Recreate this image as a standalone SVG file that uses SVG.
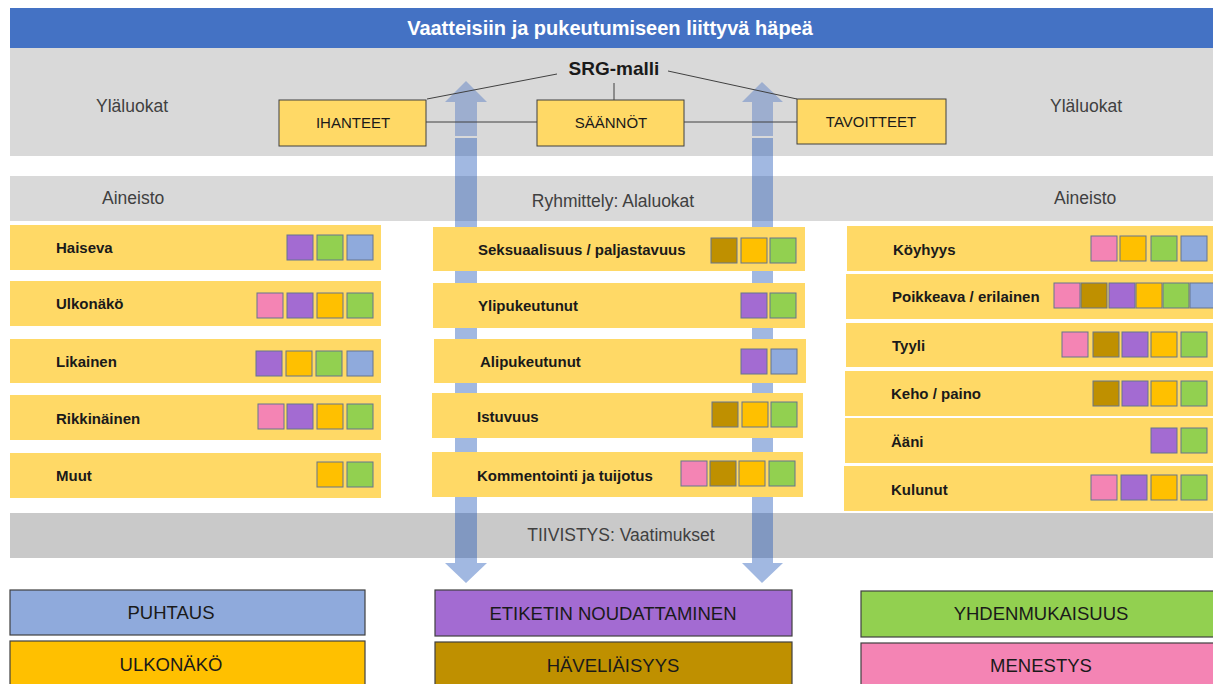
<svg xmlns="http://www.w3.org/2000/svg" width="1213" height="684" viewBox="0 0 1213 684">
<style>
text{font-family:"Liberation Sans",Arial,sans-serif}
.band{fill:#d9d9d9}
.band2{fill:#c9c9c9}
.sec{font-size:17.5px;fill:#404040}
.row{fill:#ffd966}
.lbl{font-size:15px;font-weight:bold;fill:#1a1a1a}
.sq{stroke:#65758f;stroke-width:1}
.pk{fill:#f484b4}.pu{fill:#a36bd2}.go{fill:#ffc000}.gr{fill:#92d050}.bl{fill:#8faadc}.br{fill:#bf9000}
.node{fill:#ffd966;stroke:#404040;stroke-width:1}
.ntxt{font-size:15px;fill:#1a1a1a;text-anchor:middle}
.conn{stroke:#404040;stroke-width:1;fill:none}
.arrow{fill:#1f56b8;fill-opacity:0.42}
.arrowU{fill:#3d6ac0;fill-opacity:0.38}
.req{stroke:#404040;stroke-width:1.2}
.rtxt{font-size:18.5px;fill:#1a1a1a;text-anchor:middle}
</style>
<defs>
<rect id="s" width="26" height="25"/>
</defs>

<!-- background bands -->
<rect x="10" y="8" width="1203" height="40" fill="#4472c4"/>
<text x="610" y="35" font-size="20" font-weight="bold" fill="#ffffff" text-anchor="middle">Vaatteisiin ja pukeutumiseen liittyvä häpeä</text>
<rect class="band" x="10" y="48" width="1203" height="108"/>
<rect class="band" x="10" y="176" width="1203" height="45"/>
<rect class="band2" x="10" y="513" width="1203" height="45"/>
<text class="sec" x="96" y="112" fill="#262626">Yläluokat</text>
<text class="sec" x="1050" y="112">Yläluokat</text>
<text class="sec" x="102" y="204">Aineisto</text>
<text class="sec" x="613" y="207" text-anchor="middle" font-size="18">Ryhmittely: Alaluokat</text>
<text class="sec" x="1054" y="204">Aineisto</text>
<text class="sec" x="621" y="541" text-anchor="middle">TIIVISTYS: Vaatimukset</text>

<!-- arrows -->
<g id="arrows">
<polygon class="arrowU" points="466,81 487,102 477,102 477,136 455,136 455,102 445,102"/>
<polygon class="arrow" points="455,138 477,138 477,563 487,563 466,583 445,563 455,563"/>
<polygon class="arrowU" points="762,82 783,102 773,102 773,136 752,136 752,102 742,102"/>
<polygon class="arrow" points="752,138 773,138 773,563 783,563 762,583 742,563 752,563"/>
</g>

<!-- connectors -->
<g id="connectors">
<line class="conn" x1="426" y1="122" x2="537" y2="122"/>
<line class="conn" x1="684" y1="122" x2="797" y2="122" stroke-width="1.5"/>
<line class="conn" x1="427" y1="99" x2="557" y2="74"/>
<line class="conn" x1="668" y1="71" x2="797" y2="99"/>
<line class="conn" x1="614" y1="83" x2="614" y2="100"/>
</g>

<g id="srg"><text x="614" y="75" font-size="19" font-weight="bold" fill="#1a1a1a" text-anchor="middle">SRG-malli</text></g>
<g id="ihanteet"><rect class="node" x="279" y="100" width="147" height="46"/><text class="ntxt" x="353" y="128">IHANTEET</text></g>
<g id="saannot"><rect class="node" x="537" y="100" width="147" height="46"/><text class="ntxt" x="611" y="128">SÄÄNNÖT</text></g>
<g id="tavoitteet"><rect class="node" x="797" y="99" width="149" height="45"/><text class="ntxt" x="871" y="127">TAVOITTEET</text></g>

<!-- left column -->
<g id="haiseva"><rect class="row" x="10" y="225" width="371" height="45"/><text class="lbl" x="56" y="253">Haiseva</text>
<use href="#s" class="sq pu" x="287" y="235"/><use href="#s" class="sq gr" x="317" y="235"/><use href="#s" class="sq bl" x="347" y="235"/></g>
<g id="ulkonako"><rect class="row" x="10" y="281" width="371" height="45"/><text class="lbl" x="56" y="309">Ulkonäkö</text>
<use href="#s" class="sq pk" x="257" y="293"/><use href="#s" class="sq pu" x="287" y="293"/><use href="#s" class="sq go" x="317" y="293"/><use href="#s" class="sq gr" x="347" y="293"/></g>
<g id="likainen"><rect class="row" x="10" y="339" width="371" height="44"/><text class="lbl" x="56" y="367">Likainen</text>
<use href="#s" class="sq pu" x="256" y="351"/><use href="#s" class="sq go" x="286" y="351"/><use href="#s" class="sq gr" x="316" y="351"/><use href="#s" class="sq bl" x="347" y="351"/></g>
<g id="rikkinainen"><rect class="row" x="10" y="395" width="371" height="45"/><text class="lbl" x="56" y="424">Rikkinäinen</text>
<use href="#s" class="sq pk" x="258" y="404"/><use href="#s" class="sq pu" x="287" y="404"/><use href="#s" class="sq go" x="317" y="404"/><use href="#s" class="sq gr" x="347" y="404"/></g>
<g id="muut"><rect class="row" x="10" y="453" width="371" height="45"/><text class="lbl" x="56" y="481">Muut</text>
<use href="#s" class="sq go" x="317" y="462"/><use href="#s" class="sq gr" x="347" y="462"/></g>

<!-- middle column -->
<g id="seksuaalisuus"><rect class="row" x="433" y="227" width="372" height="44"/><text class="lbl" x="478" y="255">Seksuaalisuus / paljastavuus</text>
<use href="#s" class="sq br" x="711" y="238"/><use href="#s" class="sq go" x="741" y="238"/><use href="#s" class="sq gr" x="770" y="238"/></g>
<g id="ylipukeutunut"><rect class="row" x="433" y="283" width="372" height="45"/><text class="lbl" x="478" y="311">Ylipukeutunut</text>
<use href="#s" class="sq pu" x="741" y="293"/><use href="#s" class="sq gr" x="770" y="293"/></g>
<g id="alipukeutunut"><rect class="row" x="434" y="339" width="372" height="44"/><text class="lbl" x="480" y="367">Alipukeutunut</text>
<use href="#s" class="sq pu" x="741" y="349"/><use href="#s" class="sq bl" x="771" y="349"/></g>
<g id="istuvuus"><rect class="row" x="432" y="393" width="371" height="45"/><text class="lbl" x="477" y="422">Istuvuus</text>
<use href="#s" class="sq br" x="712" y="402"/><use href="#s" class="sq go" x="742" y="402"/><use href="#s" class="sq gr" x="771" y="402"/></g>
<g id="kommentointi"><rect class="row" x="432" y="452" width="371" height="45"/><text class="lbl" x="477" y="481">Kommentointi ja tuijotus</text>
<use href="#s" class="sq pk" x="681" y="461"/><use href="#s" class="sq br" x="710" y="461"/><use href="#s" class="sq go" x="739" y="461"/><use href="#s" class="sq gr" x="769" y="461"/></g>

<!-- right column -->
<g id="koyhyys"><rect class="row" x="847" y="226" width="366" height="45"/><text class="lbl" x="893" y="255">Köyhyys</text>
<use href="#s" class="sq pk" x="1091" y="236"/><use href="#s" class="sq go" x="1120" y="236"/><use href="#s" class="sq gr" x="1151" y="236"/><use href="#s" class="sq bl" x="1181" y="236"/></g>
<g id="poikkeava"><rect class="row" x="846" y="274" width="367" height="45"/><text class="lbl" x="892" y="302">Poikkeava / erilainen</text>
<use href="#s" class="sq pk" x="1054" y="283"/><use href="#s" class="sq br" x="1081" y="283"/><use href="#s" class="sq pu" x="1109" y="283"/><use href="#s" class="sq go" x="1136" y="283"/><use href="#s" class="sq gr" x="1163" y="283"/><use href="#s" class="sq bl" x="1190" y="283"/></g>
<g id="tyyli"><rect class="row" x="846" y="323" width="367" height="44"/><text class="lbl" x="892" y="351">Tyyli</text>
<use href="#s" class="sq pk" x="1062" y="332"/><use href="#s" class="sq br" x="1093" y="332"/><use href="#s" class="sq pu" x="1122" y="332"/><use href="#s" class="sq go" x="1151" y="332"/><use href="#s" class="sq gr" x="1181" y="332"/></g>
<g id="keho"><rect class="row" x="845" y="371" width="368" height="45"/><text class="lbl" x="891" y="399">Keho / paino</text>
<use href="#s" class="sq br" x="1093" y="381"/><use href="#s" class="sq pu" x="1122" y="381"/><use href="#s" class="sq go" x="1151" y="381"/><use href="#s" class="sq gr" x="1181" y="381"/></g>
<g id="aani"><rect class="row" x="845" y="418" width="368" height="45"/><text class="lbl" x="891" y="447">Ääni</text>
<use href="#s" class="sq pu" x="1151" y="428"/><use href="#s" class="sq gr" x="1181" y="428"/></g>
<g id="kulunut"><rect class="row" x="844" y="466" width="369" height="45"/><text class="lbl" x="891" y="495">Kulunut</text>
<use href="#s" class="sq pk" x="1091" y="475"/><use href="#s" class="sq pu" x="1121" y="475"/><use href="#s" class="sq go" x="1151" y="475"/><use href="#s" class="sq gr" x="1181" y="475"/></g>

<!-- requirements -->
<g id="puhtaus"><rect class="req bl" x="10" y="590" width="355" height="45"/><text class="rtxt" x="171" y="619">PUHTAUS</text></g>
<g id="ulkonako-req"><rect class="req go" x="10" y="641" width="355" height="50"/><text class="rtxt" x="171" y="671">ULKONÄKÖ</text></g>
<g id="etiketti"><rect class="req pu" x="435" y="590" width="357" height="46"/><text class="rtxt" x="613" y="620">ETIKETIN NOUDATTAMINEN</text></g>
<g id="havelias"><rect class="req br" x="435" y="642" width="357" height="50"/><text class="rtxt" x="613" y="672">HÄVELIÄISYYS</text></g>
<g id="yhdenmukaisuus"><rect class="req gr" x="861" y="591" width="360" height="46"/><text class="rtxt" x="1041" y="620">YHDENMUKAISUUS</text></g>
<g id="menestys"><rect class="req pk" x="861" y="643" width="360" height="50"/><text class="rtxt" x="1041" y="672">MENESTYS</text></g>
</svg>
